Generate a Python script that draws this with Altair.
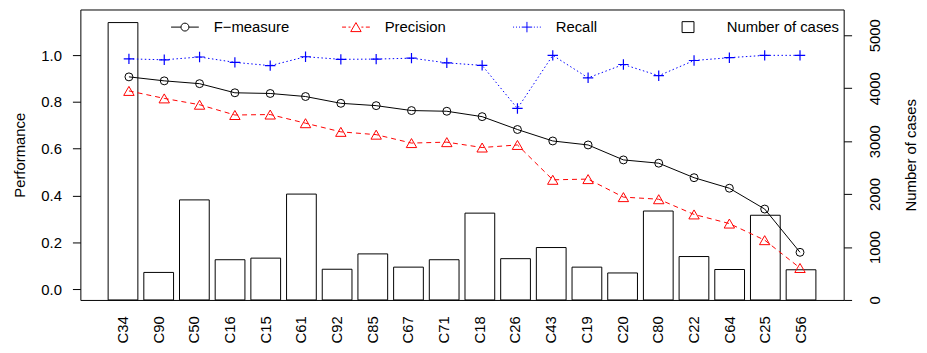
import altair as alt
import pandas as pd

categories = ["C34", "C90", "C50", "C16", "C15", "C61", "C92", "C85", "C67", "C71",
              "C18", "C26", "C43", "C19", "C20", "C80", "C22", "C64", "C25", "C56"]
cases = [5240, 520, 1890, 760, 790, 2000, 580, 870, 620, 760,
         1640, 780, 990, 620, 510, 1680, 820, 575, 1600, 570]
f_measure = [0.907, 0.890, 0.878, 0.839, 0.836, 0.823, 0.794, 0.784, 0.763, 0.760,
             0.737, 0.682, 0.633, 0.616, 0.552, 0.538, 0.476, 0.431, 0.342, 0.157]
precision = [0.847, 0.815, 0.788, 0.744, 0.746, 0.709, 0.672, 0.660, 0.624, 0.628,
             0.605, 0.616, 0.467, 0.470, 0.393, 0.384, 0.319, 0.280, 0.209, 0.090]
recall = [0.984, 0.980, 0.992, 0.969, 0.955, 0.993, 0.982, 0.983, 0.987, 0.967,
          0.956, 0.772, 0.999, 0.903, 0.960, 0.912, 0.977, 0.989, 0.999, 0.999]
series_names = ["F\u2212measure", "Precision", "Recall", "Number of cases"]
perf_ticks = [0.0, 0.2, 0.4, 0.6, 0.8, 1.0]
case_ticks = [0, 1000, 2000, 3000, 4000, 5000]

W, H = 770, 293
FONT = "Liberation Sans"

bars_df = pd.DataFrame({"cat": categories, "cases": cases})
n = len(categories)
perf_df = pd.DataFrame({
    "pos": list(range(1, n + 1)) * 3,
    "series": [series_names[0]] * n + [series_names[1]] * n + [series_names[2]] * n,
    "value": f_measure + precision + recall,
})
legend_df = pd.DataFrame({"series": series_names})

bars = alt.Chart(bars_df).mark_bar(fill="white", stroke="black", strokeWidth=1).encode(
    x=alt.X("cat:N", sort=categories,
            scale=alt.Scale(paddingInner=0.1667, paddingOuter=0.778),
            axis=alt.Axis(title=None, labelAngle=270, labelAlign="right", labelBaseline="middle",
                          ticks=False, domain=False, labelPadding=16, labelFontSize=15)),
    y=alt.Y("cases:Q", scale=alt.Scale(domain=[0, 5487], nice=False, zero=False),
            axis=alt.Axis(orient="right", values=case_ticks, format="d", title="Number of cases",
                          titleAngle=270, titleBaseline="top", titlePadding=21,
                          labelAngle=270, labelAlign="center", labelBaseline="top",
                          labelPadding=16, tickSize=8, domain=False, grid=False)),
)

base = alt.Chart(perf_df).encode(
    x=alt.X("pos:Q", scale=alt.Scale(domain=[-0.375, 21.236], nice=False, zero=False), axis=None),
    y=alt.Y("value:Q", scale=alt.Scale(domain=[-0.0466, 1.195], nice=False, zero=False),
            axis=alt.Axis(orient="left", values=perf_ticks, format=".1f", title="Performance",
                          titleAngle=270, titleBaseline="bottom", titlePadding=14,
                          labelAngle=0, labelAlign="right", labelBaseline="middle",
                          labelPadding=11, tickSize=8, domain=False, grid=False)),
)

def sel(name):
    return alt.datum.series == name

line_f = base.transform_filter(sel(series_names[0])).mark_line(color="black", strokeWidth=1)
pts_f = base.transform_filter(sel(series_names[0])).mark_point(
    shape="circle", size=64, color="black", filled=False, strokeWidth=1, opacity=1)
line_p = base.transform_filter(sel(series_names[1])).mark_line(
    color="red", strokeWidth=1, strokeDash=[5, 4])
pts_p = base.transform_filter(sel(series_names[1])).mark_point(
    shape="triangle-up", size=110, color="red", filled=False, strokeWidth=1, opacity=1)
line_r = base.transform_filter(sel(series_names[2])).mark_line(
    color="blue", strokeWidth=1, strokeDash=[1.5, 2.5])
pts_r = base.transform_filter(sel(series_names[2])).mark_point(
    shape="M-1,0H1M0,-1V1", size=110, color="blue", filled=False, strokeWidth=1.2, opacity=1)

path_f = "M-2.8,0H-0.8M0.8,0H2.8M0.8,0A0.8,0.8,0,1,1,-0.8,0A0.8,0.8,0,1,1,0.8,0"
path_p = ("M-2.8,0H-2.0M-1.5,0H-1.1M1.1,0H1.5M2.0,0H2.8"
          "M0,-0.91L1.05,0.91L-1.05,0.91Z")
path_r = ("M-2.8,0H-2.6M-2.2,0H-2.0M-1.6,0H-1.4M1.4,0H1.6M2.0,0H2.2M2.6,0H2.8"
          "M-1.05,0H1.05M0,-1.05V1.05")
path_b = "M-3.2,-1.1H-0.8V1.1H-3.2Z"

legend_layer = alt.Chart(legend_df).mark_point(clip=True, filled=False, size=100, strokeWidth=1).encode(
    x=alt.value(-300), y=alt.value(-300),
    stroke=alt.Stroke("series:N", sort=series_names,
                      scale=alt.Scale(domain=series_names, range=["black", "red", "blue", "black"]),
                      legend=alt.Legend(title=None)),
    shape=alt.Shape("series:N", sort=series_names,
                    scale=alt.Scale(domain=series_names, range=[path_f, path_p, path_r, path_b]),
                    legend=alt.Legend(title=None)),
)

perf = alt.layer(line_f, line_p, line_r, pts_f, pts_p, pts_r, legend_layer)

chart = alt.layer(bars, perf).resolve_scale(x="independent", y="independent").properties(
    width=W, height=H,
    autosize=alt.AutoSizeParams(type="none"),
    padding={"left": 73, "top": 0, "right": 76, "bottom": 52},
).configure(font=FONT).configure_view(
    stroke="black", strokeWidth=1
).configure_axis(
    labelFont=FONT, titleFont=FONT, labelFontSize=15, titleFontSize=15,
    labelColor="black", titleColor="black", tickColor="black",
    titleFontWeight="normal", grid=False,
).configure_legend(
    orient="none", legendX=98, legendY=10, direction="horizontal", columns=4,
    gridAlign="all", columnPadding=11.5, padding=0,
    labelFont=FONT, labelFontSize=15, labelColor="black", labelOffset=21.5,
    symbolSize=100, symbolStrokeWidth=1, symbolOpacity=1,
)

chart.save("out.html", embed_options={"renderer": "svg", "actions": False})
